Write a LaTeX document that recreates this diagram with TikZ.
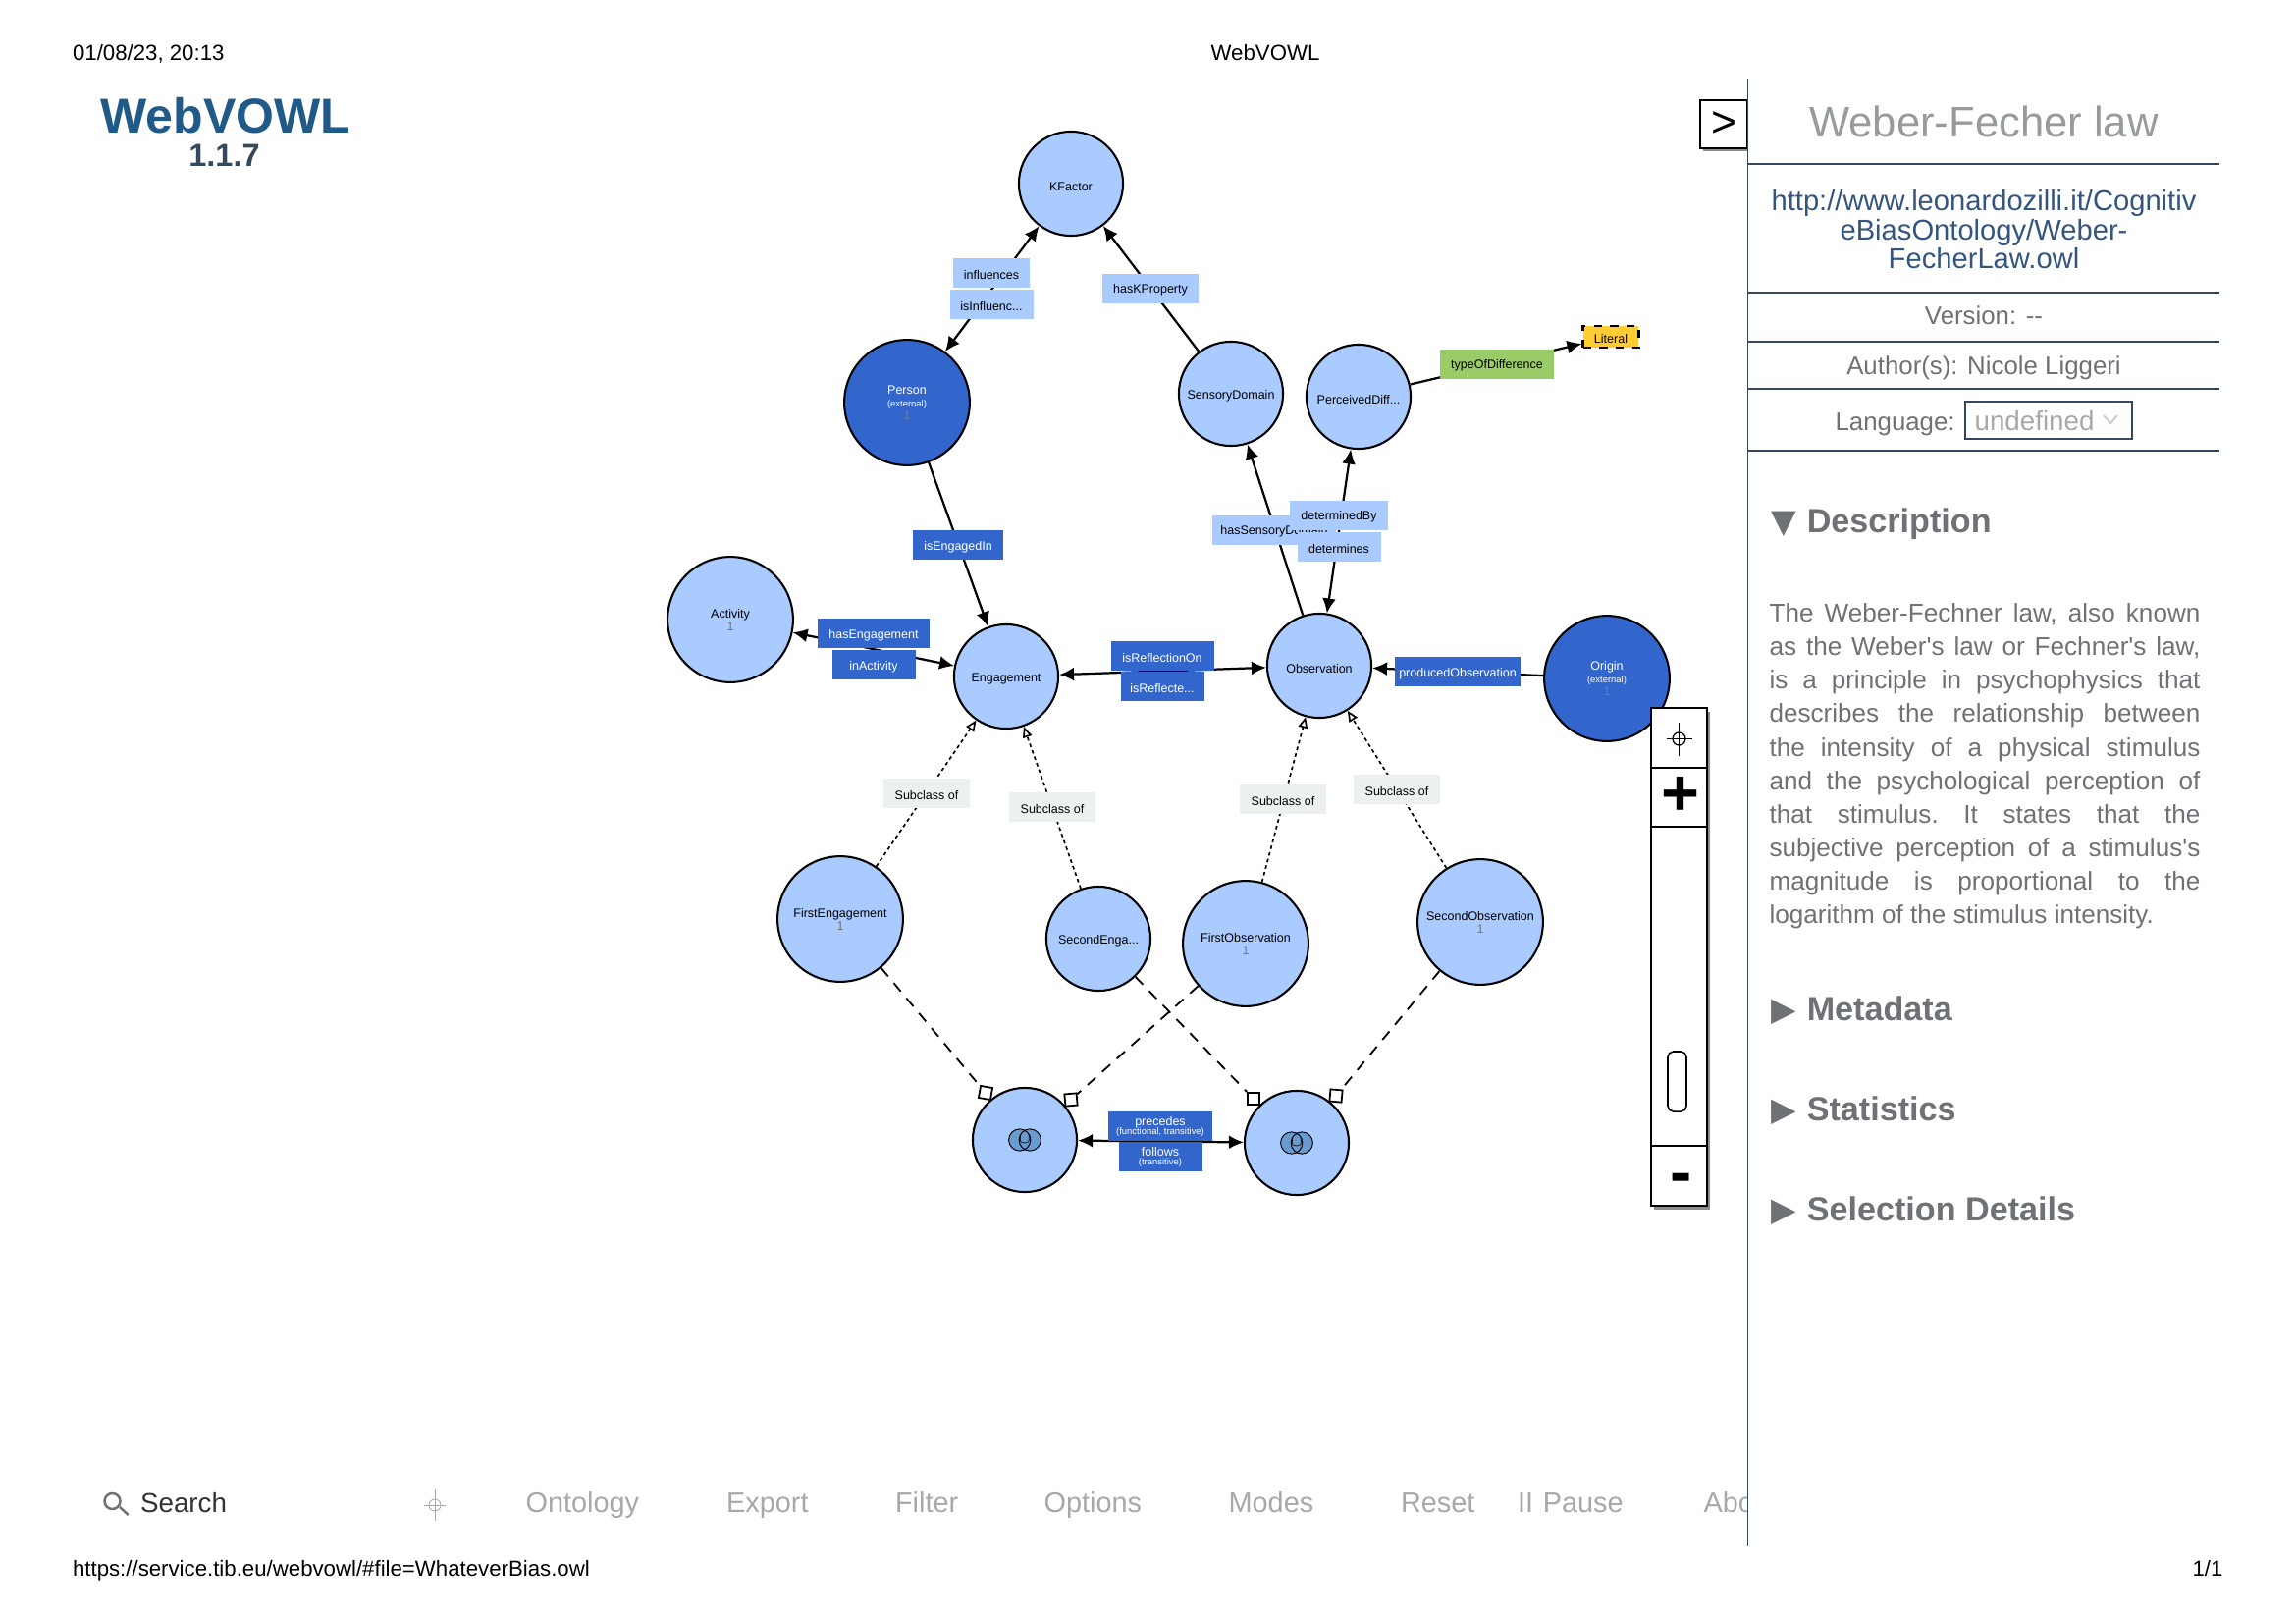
\documentclass[tikz,border=0pt]{standalone}
\usepackage{fontspec}
\setmainfont{Liberation Sans}
\newfontfamily\symfont{DejaVu Sans}
\newfontfamily\plainfont{Liberation Sans}
\usetikzlibrary{arrows.meta}
\definecolor{classlight}{HTML}{AACBFF}
\definecolor{classdark}{HTML}{3366CC}
\definecolor{dimone}{HTML}{5F7FB5}
\definecolor{edgegreen}{HTML}{99CC66}
\definecolor{litgold}{HTML}{FFCC33}
\definecolor{subgrey}{HTML}{ECF0F1}
\definecolor{panelblue}{HTML}{34495E}
\definecolor{urlblue}{HTML}{34557F}
\definecolor{logoblue}{HTML}{1F5A88}
\definecolor{paneltext}{HTML}{6E7175}
\definecolor{menugrey}{HTML}{A6A8AA}
\definecolor{titlegrey}{HTML}{979B9C}
\definecolor{unionblue}{HTML}{6A9BD0}
\newcommand{\fs}[1]{\fontsize{#1}{1.1\dimexpr #1pt\relax}\selectfont}
\newcommand{\subnote}[1]{{\fontsize{3.4}{4}\selectfont #1}}
\newcommand{\onemark}{{\color{black!55}1}}
\tikzset{
  classbase/.style={draw,circle,line width=.75pt,fill=classlight,minimum size=38.2pt,inner sep=0pt,align=center,font=\fontsize{4.5}{4.7}\selectfont},
  smallclass/.style={classbase,execute at begin node={\rule{0pt}{5.1pt}}},
  bigclass/.style={classbase,minimum size=46pt,execute at begin node={\vspace*{1.4pt}}},
  extclass/.style={classbase,minimum size=46pt,fill=classdark,text=white,execute at begin node={\vspace*{2pt}}},
  lblbase/.style={minimum height=10.8pt,inner sep=0pt,align=center,font=\fontsize{4.5}{4.7}\selectfont},
  lightlbl/.style={lblbase,fill=classlight,execute at begin node={\rule{0pt}{4.5pt}}},
  darklbl/.style={lblbase,fill=classdark,text=white,execute at begin node={\rule{0pt}{4.9pt}}},
  twolbl/.style={lblbase,fill=classdark,text=white,execute at begin node={\vspace*{1.1pt}}},
  sublbl/.style={lightlbl,fill=subgrey,minimum width=31.7pt},
  arrowedge/.style={->,>={Latex[length=5.4pt,width=5pt]},line width=.8pt},
  subedge/.style={-{Triangle[open,fill=white,length=4pt,width=3.4pt]},line width=.6pt,dash pattern=on 1.3pt off 1.2pt},
  setedge/.style={line width=.65pt,dash pattern=on 4pt off 3.2pt},
  setsquare/.style={draw,fill=white,line width=.65pt,minimum size=4.4pt,inner sep=0pt},
  pagetext/.style={anchor=base west,inner sep=0pt,font=\fs{8}},
  menutext/.style={anchor=base west,inner sep=0pt,text=menugrey,font=\fs{10.4}},
  paneltxt/.style={anchor=base,inner sep=0pt,text=paneltext,font=\fs{9.3}},
  sectionhead/.style={anchor=base west,inner sep=0pt,text=paneltext,font=\bfseries\fs{12.3}},
  ctrlbox/.style={draw,fill=white,line width=.75pt,minimum width=20.5pt,inner sep=0pt},
}
\begin{document}
\begin{tikzpicture}[x=0.36pt,y=-0.36pt]
\useasboundingbox (0,0) rectangle (2339,1653);
\node[pagetext] (datetext) at (73.5,61.5) {01/08/23, 20:13};
\node[pagetext,anchor=base] (pagetitle) at (1289,61) {WebVOWL};
\node[pagetext] (pageurl) at (73.5,1605) {https://service.tib.eu/webvowl/\#file=WhateverBias.owl};
\node[pagetext,anchor=base east] (pagenum) at (2265,1605) {1/1};
\node[anchor=base,inner sep=0pt,text=logoblue,font=\bfseries\fs{18}] (logo) at (230,135) {WebVOWL};
\node[anchor=base,inner sep=0pt,text=panelblue,font=\bfseries\fs{11.7}] (logoversion) at (228.5,169.5) {1.1.7};

\node[smallclass] (KFactor) at (1091,187) {KFactor};
\node[extclass] (Person) at (924,410) {Person\\\subnote{(external)}\\{\color{dimone}1}};
\node[smallclass] (SensoryDomain) at (1254,401) {SensoryDomain};
\node[smallclass] (PerceivedDiff) at (1384,404) {PerceivedDiff...};
\node[bigclass] (Activity) at (744,631) {Activity\\\onemark};
\node[smallclass] (Engagement) at (1025,689) {Engagement};
\node[smallclass] (Observation) at (1344,678) {Observation};
\node[extclass] (Origin) at (1637,691) {Origin\\\subnote{(external)}\\{\color{dimone}1}};
\node[bigclass] (FirstEngagement) at (856,936) {FirstEngagement\\\onemark};
\node[smallclass] (SecondEngagement) at (1119,956) {SecondEnga...};
\node[bigclass] (FirstObservation) at (1269,961) {FirstObservation\\\onemark};
\node[bigclass] (SecondObservation) at (1508,939) {SecondObservation\\\onemark};
\node[smallclass] (UnionA) at (1044,1161) {};
\node[smallclass] (UnionB) at (1321,1164) {};
\node[draw,dashed,line width=.75pt,fill=litgold,minimum width=20.5pt,minimum height=8pt,inner sep=0pt,font=\fontsize{4.5}{4.7}\selectfont,execute at begin node={\rule{0pt}{4.5pt}}] (Literal) at (1641,343) {Literal};

\foreach \uname in {UnionA,UnionB} {
  \fill[unionblue] ([xshift=-1.9pt]\uname.center) circle (4pt);
  \fill[unionblue] ([xshift=1.9pt]\uname.center) circle (4pt);
  \draw[line width=.35pt] ([xshift=-1.9pt]\uname.center) circle (4pt);
  \draw[line width=.35pt] ([xshift=1.9pt]\uname.center) circle (4pt);
  \node[inner sep=0pt,font=\fontsize{3.6}{4}\selectfont] at (\uname) {$\cup$};
}

\node[setsquare,rotate=-10] (SquareA) at (1004,1113) {};
\node[setsquare,rotate=5] (SquareB) at (1091,1120) {};
\node[setsquare] (SquareC) at (1277,1119) {};
\node[setsquare,rotate=-5] (SquareD) at (1361,1116) {};

\draw[arrowedge,<->] (Person) -- (KFactor);
\draw[arrowedge] (SensoryDomain) -- (KFactor);
\draw[arrowedge] (PerceivedDiff) -- (Literal);
\draw[arrowedge] (Person) -- (Engagement);
\draw[arrowedge,<->] (Activity) -- (Engagement);
\draw[arrowedge,<->] (Engagement) -- (Observation);
\draw[arrowedge] (Origin) -- (Observation);
\draw[arrowedge] (Observation) -- (SensoryDomain);
\draw[arrowedge,<->] (Observation) -- (PerceivedDiff);
\draw[arrowedge,<->] (UnionA) -- (UnionB);
\draw[subedge] (FirstEngagement) -- (Engagement);
\draw[subedge] (SecondEngagement) -- (Engagement);
\draw[subedge] (FirstObservation) -- (Observation);
\draw[subedge] (SecondObservation) -- (Observation);
\draw[setedge] (FirstEngagement) -- (SquareA);
\draw[setedge] (FirstObservation) -- (SquareB);
\draw[setedge] (SecondEngagement) -- (SquareC);
\draw[setedge] (SecondObservation) -- (SquareD);

\node[lightlbl,minimum width=28.4pt] (influences) at (1010,278) {influences};
\node[lightlbl,minimum width=30.6pt] (isInfluenced) at (1010,310) {isInfluenc...};
\node[lightlbl,minimum width=35.6pt] (hasKProperty) at (1172,294) {hasKProperty};
\node[lightlbl,minimum width=42pt,fill=edgegreen] (typeOfDifference) at (1525,371) {typeOfDifference};
\node[darklbl,minimum width=33.3pt] (isEngagedIn) at (976,555) {isEngagedIn};
\node[darklbl,minimum width=40.7pt] (hasEngagement) at (890,645) {hasEngagement};
\node[darklbl,minimum width=30.6pt] (inActivity) at (890,677) {inActivity};
\node[darklbl,minimum width=37.8pt] (isReflectionOn) at (1184,668) {isReflectionOn};
\node[darklbl,minimum width=30.6pt] (isReflected) at (1184,699) {isReflecte...};
\node[darklbl,minimum width=46pt] (producedObservation) at (1485,684) {producedObservation};
\node[lightlbl,minimum width=45.7pt] (hasSensoryDomain) at (1298,540) {hasSensoryDomain};
\node[lightlbl,minimum width=36pt] (determinedBy) at (1364,525) {determinedBy};
\node[lightlbl,minimum width=30.6pt] (determines) at (1364,557) {determines};
\node[sublbl] (SubclassA) at (944,808) {Subclass of};
\node[sublbl] (SubclassB) at (1072,822) {Subclass of};
\node[sublbl] (SubclassC) at (1307,814) {Subclass of};
\node[sublbl] (SubclassD) at (1423,804) {Subclass of};
\node[twolbl,minimum width=38.2pt] (precedes) at (1182,1147) {precedes\\[-1.5pt]\subnote{(functional, transitive)}};
\node[twolbl,minimum width=30.6pt] (follows) at (1182,1178) {follows\\[-1.5pt]\subnote{(transitive)}};

\fill[black!45] (1685,725) rectangle (1742,1232);
\node[ctrlbox,minimum height=22pt] (LocateBox) at (1710.5,751.5) {};
\node[ctrlbox,minimum height=21.6pt] (PlusBox) at (1710.5,812) {};
\node[ctrlbox,minimum height=117pt] (SliderBox) at (1710.5,1004.5) {};
\node[ctrlbox,minimum height=22pt] (MinusBox) at (1710.5,1197.5) {};
\draw[line width=.45pt] (1710.5,752.5) circle (6.5);
\draw[line width=.45pt] (1697.5,752.5) -- (1723.5,752.5);
\draw[line width=.45pt] (1710.5,735.5) -- (1710.5,769.5);
\node[inner sep=0pt,font=\bfseries\fs{24}] (PlusSign) at (1712,810.5) {+};
\node[inner sep=0pt,font=\bfseries\fs{24}] (MinusSign) at (1713,1205.5) {-};
\draw[line width=.55pt,rounded corners=2pt] (1699,1071) rectangle (1718,1132);

\begin{scope}
\clip (0,1490) rectangle (1780,1590);
\draw[line width=.9pt,paneltext] (114.5,1529) circle (8);
\draw[line width=.9pt,paneltext] (122,1535) -- (130.7,1543);
\node[menutext,text=black!80,font=\fs{10}] (searchitem) at (142.5,1540) {Search};
\draw[line width=.3pt,menugrey] (443,1533) circle (6);
\draw[line width=.3pt,menugrey] (432,1533) -- (454,1533);
\draw[line width=.3pt,menugrey] (443,1517) -- (443,1549);
\node[menutext] (ontologyitem) at (535,1540) {Ontology};
\node[menutext] (exportitem) at (739.5,1540) {Export};
\node[menutext] (filteritem) at (911.5,1540) {Filter};
\node[menutext] (optionsitem) at (1063,1540) {Options};
\node[menutext] (modesitem) at (1251,1540) {Modes};
\node[menutext] (resetitem) at (1426.5,1540) {Reset};
\node[menutext] (pauseitem) at (1545.5,1540) {II\hspace{.6pt} Pause};
\node[menutext] (aboutitem) at (1735,1540) {About};
\end{scope}

\fill[black!45] (1735,105) rectangle (1780,154);
\node[draw,fill=white,line width=.75pt,minimum width=17.5pt,minimum height=17.6pt,inner sep=0pt,font=\fs{16}] (ToggleBox) at (1756,126.5) {>};
\draw[panelblue,line width=.7pt] (1780.5,80) -- (1780.5,1575);
\foreach \ruley in {167,298,348,396,459} {
  \draw[panelblue,line width=.8pt] (1781,\ruley) -- (2261,\ruley);
}
\node[anchor=base,inner sep=0pt,text=titlegrey,font=\fs{15.7}] (paneltitle) at (2021,139) {Weber-Fecher law};
\node[anchor=north,inner sep=0pt,align=center,text=urlblue,font=\fontsize{10.5}{10.6}\selectfont] (panelurl) at (2021,193) {http://www.leonardozilli.it/Cognitiv\\eBiasOntology/Weber-\\FecherLaw.owl};
\node[paneltxt] (versiontext) at (2021,330.5) {Version: -{}-};
\node[paneltxt] (authortext) at (2021,381) {Author(s): Nicole Liggeri};
\node[paneltxt,anchor=base west] (languagetext) at (1869,438) {Language:};
\node[draw=panelblue,line width=.7pt,minimum width=61.5pt,minimum height=13.6pt,inner sep=0pt] (languagebox) at (2087,428) {};
\node[paneltxt,anchor=base west,text=menugrey,font=\fs{10}] (undefinedtext) at (2011,438) {undefined};
\draw[subgrey!85!black,line width=.7pt] (2143,423) -- (2150,431) -- (2157,423);

\node[sectionhead] (descriptionhead) at (1804,542.5) {{\symfont\fs{12}▼}\hspace{3.8pt}Description};
\node[anchor=north west,inner sep=0pt,text width=158pt,align=justify,text=paneltext,font=\plainfont\frenchspacing\fontsize{9.4}{12.3}\selectfont] (descriptiontext) at (1802,614) {The Weber-Fechner law, also known\linebreak as the Weber's law or Fechner's law,\linebreak is a principle in psychophysics that\linebreak describes the relationship between\linebreak the intensity of a physical stimulus\linebreak and the psychological perception of\linebreak that stimulus. It states that the\linebreak subjective perception of a stimulus's\linebreak magnitude is proportional to the\linebreak logarithm of the stimulus intensity.};
\node[sectionhead] (metadatahead) at (1804,1039) {{\symfont\fs{12}▶}\hspace{3.8pt}Metadata};
\node[sectionhead] (statisticshead) at (1804,1141.5) {{\symfont\fs{12}▶}\hspace{3.8pt}Statistics};
\node[sectionhead] (selectionhead) at (1804,1243.5) {{\symfont\fs{12}▶}\hspace{3.8pt}Selection Details};
\end{tikzpicture}
\end{document}
